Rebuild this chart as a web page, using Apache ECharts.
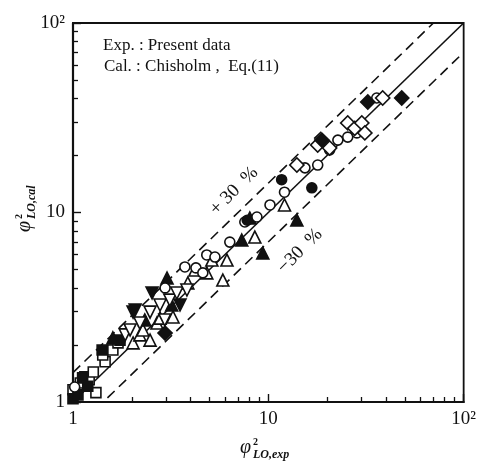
<!DOCTYPE html>
<html>
<head>
<meta charset="utf-8">
<script src="https://cdn.jsdelivr.net/npm/echarts@6/dist/echarts.min.js"></script>
<style>
  html, body { margin: 0; padding: 0; background: #fff; }
  #chart { width: 479px; height: 461px; }
</style>
</head>
<body>
<div id="chart"></div>
<script>
// phi^2 exp (x) vs phi^2 cal (y)
const openSquares = [[1.0, 1.16], [1.09, 1.26], [1.15, 1.36], [1.21, 1.31], [1.27, 1.44], [1.31, 1.12],
  [1.46, 1.63], [1.42, 1.77], [1.6, 1.88], [1.7, 2.05]]
const filledSquares = [[1.0, 1.04], [1.06, 1.09], [1.12, 1.34], [1.19, 1.21], [1.41, 1.88], [1.74, 2.12]]
const openTriangles = [[2.03, 2.05], [2.2, 2.26], [2.28, 2.4], [2.48, 2.12], [2.69, 2.61], [2.79, 2.77],
  [3.25, 2.81], [3.87, 4.25], [4.21, 4.97], [4.84, 4.8], [5.14, 5.61], [6.14, 5.61], [5.85, 4.4],
  [8.53, 7.42], [12.1, 10.96]]
const filledTriangles = [[1.6, 2.18], [2.33, 2.71], [3.2, 3.25], [3.03, 4.51], [7.31, 7.16], [8.04, 9.35],
  [9.37, 6.11], [14.0, 9.13]]
const openDownTriangles = [[1.85, 2.26], [1.96, 2.4], [2.2, 2.61], [2.48, 2.98], [2.79, 3.25], [2.95, 2.71],
  [3.13, 3.45], [3.4, 3.76], [3.83, 3.9]]
const filledDownTriangles = [[2.03, 2.98], [2.08, 3.06], [2.54, 3.76], [3.53, 3.25]]
const openCircles = [[1.02, 1.2], [2.96, 4.0], [3.74, 5.16], [4.26, 5.1], [4.62, 4.8], [4.84, 5.97],
  [5.33, 5.82], [6.35, 6.98], [7.58, 8.91], [8.74, 9.47], [10.2, 10.96], [12.1, 12.8], [15.4, 17.2],
  [17.9, 17.8], [20.6, 21.4], [22.7, 24.1], [25.5, 25.0], [28.4, 26.3], [35.9, 40.2]]
const filledCircles = [[7.8, 9.1], [11.7, 14.9], [16.7, 13.5]]
const openDiamonds = [[14.0, 17.8], [17.9, 22.7], [20.6, 21.9], [25.5, 29.7], [27.7, 27.8], [30.1, 29.7],
  [31.2, 26.3], [38.5, 40.2]]
const filledDiamonds = [[2.96, 2.31], [18.8, 24.1], [32.3, 38.3], [48.2, 40.2]]

// y = k * x reference lines: -30 %, exact, +30 %
const lineFactors = [0.7, 1, 1 / 0.7]
const axisRange = [1, 100]
const minorTicks = [2, 3, 4, 5, 6, 7, 8, 9, 20, 30, 40, 50, 60, 70, 80, 90]

const FONT = '"Liberation Serif", "DejaVu Serif", serif'
const chart = echarts.init(document.getElementById('chart'))

const scatter = (data, symbol, filled, size, rotate) => ({
  type: 'scatter',
  data: data,
  symbol: symbol,
  symbolSize: size,
  symbolRotate: rotate || 0,
  xAxisIndex: 0,
  yAxisIndex: 0,
  itemStyle: { color: filled ? '#111' : '#fff', borderColor: '#111', borderWidth: 1.6, opacity: 1 },
  z: 4,
})

const refLine = (k) => ({
  type: 'line',
  data: axisRange.map(v => [v, v * k]),
  xAxisIndex: 0,
  yAxisIndex: 0,
  showSymbol: false,
  silent: true,
  clip: true,
  lineStyle: { color: '#111', width: 1.6, type: k === 1 ? 'solid' : [10, 6] },
  z: 2,
})

const logAxis = (pos) => ({
  type: 'log',
  logBase: 10,
  min: axisRange[0],
  max: axisRange[1],
  position: pos,
  axisLine: { show: true, onZero: false, lineStyle: { color: '#111', width: 2.2 } },
  axisTick: { show: true, inside: true, length: 8, lineStyle: { color: '#111', width: 1.4 } },
  axisLabel: {
    color: '#111', fontFamily: FONT, fontSize: 19, margin: 8,
    formatter: v => (v === 100 ? '10²' : String(v)),
  },
  splitLine: { show: false },
})

const minorAxis = (pos) => ({
  type: 'value',
  min: 0,
  max: 2,
  position: pos,
  axisLine: { show: false },
  axisLabel: { show: false },
  splitLine: { show: false },
  axisTick: {
    show: true, inside: true, length: 5,
    customValues: minorTicks.map(v => Math.log10(v)),
    lineStyle: { color: '#111', width: 1.3 },
  },
})

const phiLabel = (sub, x, y, rot) => ({
  type: 'group',
  x: x,
  y: y,
  rotation: rot,
  children: [
    { type: 'text', x: -26, y: -12, style: { text: 'φ', font: 'italic 20px ' + FONT, fill: '#111' } },
    { type: 'text', x: -13, y: -13, style: { text: '2', font: 'bold 10px ' + FONT, fill: '#111' } },
    { type: 'text', x: -13, y: -1, style: { text: sub, font: 'italic bold 12px ' + FONT, fill: '#111' } },
  ],
})

chart.setOption({
  animation: false,
  backgroundColor: '#fff',
  grid: {
    left: 73, right: 15, top: 23, bottom: 59,
    show: true, borderColor: '#111', borderWidth: 1.8, backgroundColor: 'transparent',
  },
  xAxis: [logAxis('bottom'), minorAxis('bottom')],
  yAxis: [logAxis('left'), minorAxis('left')],
  series: [
    ...lineFactors.map(refLine),
    scatter(openSquares, 'rect', false, 10),
    scatter(filledSquares, 'rect', true, 10),
    scatter(openTriangles, 'triangle', false, 12),
    scatter(filledTriangles, 'triangle', true, 12),
    scatter(openDownTriangles, 'triangle', false, 12, 180),
    scatter(filledDownTriangles, 'triangle', true, 12, 180),
    scatter(openCircles, 'circle', false, 10),
    scatter(filledCircles, 'circle', true, 10),
    scatter(openDiamonds, 'rect', false, 10, 45),
    scatter(filledDiamonds, 'rect', true, 10, 45),
  ],
  graphic: [
    { type: 'text', left: 103, top: 37, style: { text: 'Exp. : Present data', font: '17px ' + FONT, fill: '#111' } },
    { type: 'text', left: 104, top: 58, style: { text: 'Cal. : Chisholm ,  Eq.(11)', font: '17px ' + FONT, fill: '#111' } },
    {
      type: 'text', x: 234, y: 191, rotation: Math.PI / 4,
      style: { text: '+ 30  %', font: '19px ' + FONT, fill: '#111', align: 'center', verticalAlign: 'middle' },
    },
    {
      type: 'text', x: 300, y: 251, rotation: Math.PI / 4,
      style: { text: '−30  %', font: '19px ' + FONT, fill: '#111', align: 'center', verticalAlign: 'middle' },
    },
    phiLabel('LO,exp', 266, 450, 0),
    phiLabel('LO,cal', 27, 206, Math.PI / 2),
  ],
})
</script>
</body>
</html>
